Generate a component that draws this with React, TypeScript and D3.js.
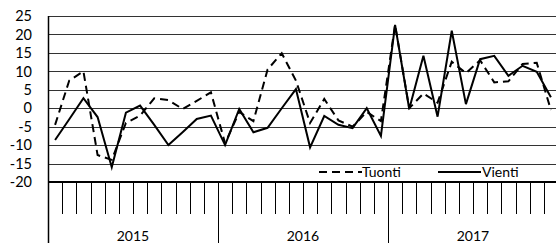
import { useEffect, useRef } from 'react';
import * as d3 from 'd3';

// monthly change, %, Jan 2015 .. Dec 2017
const years = ['2015', '2016', '2017'];
const months = d3.range(36);
const tuonti = [
  -4.5, 7.5, 10, -12.7, -14, -4, -2, 2.7, 2.2, -0.2, 2, 4.3,
  -9.5, -1, -3.5, 10.5, 14.9, 7.5, -4, 2.5, -3.3, -5, -1, -3.5,
  22.6, 0, 4, 1.5, 12.6, 9.5, 13, 7, 7.3, 12, 12.3, -0.5,
];
const vienti = [
  -8.6, -3, 2.7, -2.4, -16, -1.2, 0.7, -4.5, -10, -6.5, -2.9, -2,
  -10, -0.2, -6.5, -5.3, 0, 5.2, -10.6, -2.1, -4.5, -5.4, 0, -7.5,
  22.6, -0.2, 14.2, -2.3, 21, 1.1, 13.3, 14.2, 8.8, 11.5, 9.9, 3,
];
const yTicks = [25, 20, 15, 10, 5, 0, -5, -10, -15, -20];

const W = 556;
const H = 243;
const font = 'Lato, "DejaVu Sans", sans-serif';

export default function App() {
  const svgRef = useRef<SVGSVGElement>(null);

  useEffect(() => {
    if (!svgRef.current) return;
    const svg = d3.select(svgRef.current);
    svg.selectAll('*').remove();

    const left = 48;
    const right = 558;
    const x = d3.scaleBand<number>().domain(months).range([left, right]);
    const y = d3.scaleLinear().domain([-20, 25]).range([182, 16]);
    const axisY = y(-20);

    // grid lines
    svg.append('g')
      .selectAll('line')
      .data(yTicks.filter(t => t !== -20))
      .join('line')
      .attr('x1', left)
      .attr('x2', W)
      .attr('y1', d => Math.round(y(d)) + 0.5)
      .attr('y2', d => Math.round(y(d)) + 0.5)
      .attr('stroke', '#333')
      .attr('stroke-width', 1);

    // y labels
    svg.append('g')
      .selectAll('text')
      .data(yTicks)
      .join('text')
      .attr('x', 32)
      .attr('y', d => y(d))
      .attr('dy', '0.36em')
      .attr('text-anchor', 'end')
      .attr('font-family', font)
      .attr('font-size', 14.5)
      .attr('fill', '#000')
      .text(d => String(d));

    // month ticks
    const bw = x.bandwidth();
    svg.append('g')
      .selectAll('line')
      .data(d3.range(37))
      .join('line')
      .attr('x1', i => Math.round(left + i * bw) + 0.5)
      .attr('x2', i => Math.round(left + i * bw) + 0.5)
      .attr('y1', axisY)
      .attr('y2', i => (i % 12 === 0 ? H : 214))
      .attr('stroke', '#000')
      .attr('stroke-width', 1);

    // year labels
    svg.append('g')
      .selectAll('text')
      .data(years)
      .join('text')
      .attr('x', (d, i) => left + (i * 12 + 6) * bw)
      .attr('y', 241)
      .attr('text-anchor', 'middle')
      .attr('font-family', font)
      .attr('font-size', 14)
      .attr('fill', '#000')
      .text(d => d);

    // axes
    svg.append('line')
      .attr('x1', left).attr('x2', W)
      .attr('y1', axisY).attr('y2', axisY)
      .attr('stroke', '#000').attr('stroke-width', 2);
    svg.append('line')
      .attr('x1', left + 0.5).attr('x2', left + 0.5)
      .attr('y1', y(25)).attr('y2', H)
      .attr('stroke', '#000').attr('stroke-width', 1.5);

    const line = d3.line<number>()
      .x((d, i) => (x(i) as number) + bw / 2)
      .y(d => y(d));

    svg.append('path')
      .attr('d', line(tuonti))
      .attr('fill', 'none')
      .attr('stroke', '#000')
      .attr('stroke-width', 2)
      .attr('stroke-dasharray', '8,5');

    svg.append('path')
      .attr('d', line(vienti))
      .attr('fill', 'none')
      .attr('stroke', '#000')
      .attr('stroke-width', 2)
      .attr('stroke-linejoin', 'miter');

    // legend
    const lg = svg.append('g');
    const ly = 172;
    lg.append('line')
      .attr('x1', 319).attr('x2', 362)
      .attr('y1', ly).attr('y2', ly)
      .attr('stroke', '#000').attr('stroke-width', 2)
      .attr('stroke-dasharray', '8,5');
    lg.append('text')
      .attr('x', 362).attr('y', 177)
      .attr('font-family', font).attr('font-size', 14)
      .text('Tuonti');
    lg.append('line')
      .attr('x1', 438).attr('x2', 481)
      .attr('y1', ly).attr('y2', ly)
      .attr('stroke', '#000').attr('stroke-width', 2);
    lg.append('text')
      .attr('x', 482).attr('y', 177)
      .attr('font-family', font).attr('font-size', 14)
      .text('Vienti');
  }, []);

  return (
    <div style={{ position: 'fixed', left: 0, top: 0, background: '#fff' }}>
      <svg ref={svgRef} width={W} height={H} style={{ display: 'block' }} />
    </div>
  );
}
